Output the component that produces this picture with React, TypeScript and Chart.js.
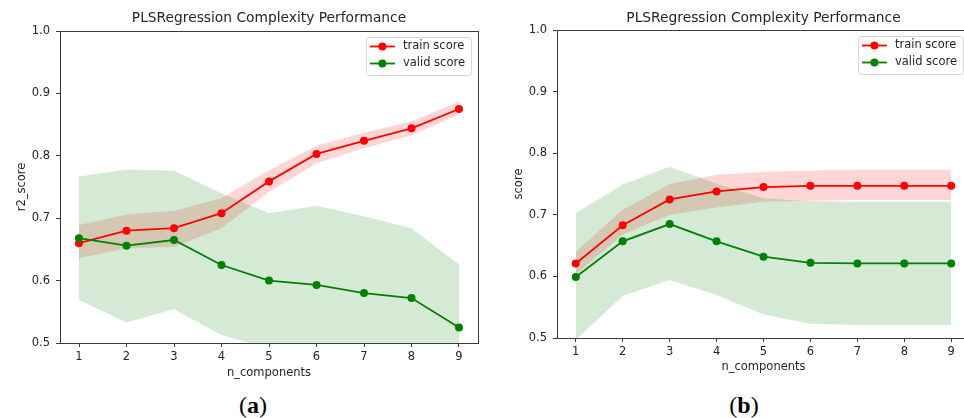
import React, { useEffect, useRef } from "react";
import { Chart, registerables } from "chart.js";

Chart.register(...registerables);

// ---------- data ----------
const nComponents = [1, 2, 3, 4, 5, 6, 7, 8, 9];
const yTicks = [0.5, 0.6, 0.7, 0.8, 0.9, 1.0];
const seriesNames = ["train score", "valid score"];
const panelTitle = "PLSRegression Complexity Performance";
const xTitle = "n_components";
const yTitles = ["r2_score", "score"];
const captions = ["a", "b"];

// panel (a)
const trainA = [0.660, 0.680, 0.684, 0.708, 0.759, 0.803, 0.824, 0.844, 0.875];
const trainALow = [0.636, 0.652, 0.654, 0.684, 0.742, 0.788, 0.812, 0.833, 0.866];
const trainAHigh = [0.689, 0.706, 0.712, 0.732, 0.777, 0.816, 0.837, 0.855, 0.887];
const validA = [0.668, 0.656, 0.665, 0.625, 0.600, 0.593, 0.580, 0.572, 0.525];
const validALow = [0.569, 0.533, 0.554, 0.513, 0.491, 0.470, 0.460, 0.462, 0.425];
const validAHigh = [0.767, 0.778, 0.776, 0.740, 0.708, 0.720, 0.703, 0.684, 0.626];

// panel (b)
const trainB = [0.621, 0.683, 0.725, 0.738, 0.745, 0.747, 0.747, 0.747, 0.747];
const trainBLow = [0.603, 0.668, 0.700, 0.712, 0.721, 0.723, 0.724, 0.724, 0.724];
const trainBHigh = [0.640, 0.708, 0.750, 0.765, 0.770, 0.772, 0.773, 0.773, 0.773];
const validB = [0.599, 0.657, 0.685, 0.657, 0.632, 0.622, 0.621, 0.621, 0.621];
const validBLow = [0.497, 0.568, 0.594, 0.570, 0.538, 0.523, 0.521, 0.521, 0.521];
const validBHigh = [0.703, 0.749, 0.778, 0.751, 0.727, 0.722, 0.721, 0.721, 0.721];

// ---------- styling ----------
const FONT = "'DejaVu Sans', sans-serif";
const TEXT = "#262626";
const RED = "#ff0000";
const GREEN = "#008000";

const pts = (ys: number[]) => nComponents.map((x, i) => ({ x, y: ys[i] }));

const framePlugin = {
  id: "mplFrame",
  afterDatasetsDraw(chart: any) {
    const { ctx, chartArea: ca } = chart;
    ctx.save();
    ctx.strokeStyle = "#3a3a3a";
    ctx.lineWidth = 1;
    ctx.strokeRect(Math.round(ca.left) + 0.5, Math.round(ca.top) + 0.5, Math.round(ca.right - ca.left), Math.round(ca.bottom - ca.top));
    ctx.restore();
  },
};

// axes title centred over the plotting area (as matplotlib does)
const axTitlePlugin = {
  id: "axTitle",
  afterDraw(chart: any, _args: any, opts: any) {
    if (!opts.text) return;
    const { ctx, chartArea: ca } = chart;
    ctx.save();
    ctx.font = `13.8px ${FONT}`;
    ctx.fillStyle = TEXT;
    ctx.textAlign = "center";
    ctx.textBaseline = "middle";
    ctx.fillText(opts.text, (ca.left + ca.right) / 2, opts.y);
    ctx.restore();
  },
};

const legendPlugin = {
  id: "mplLegend",
  afterDraw(chart: any, _args: any, opts: any) {
    const items = opts.items as { label: string; color: string }[];
    if (!items) return;
    const { ctx, chartArea: ca } = chart;
    ctx.save();
    ctx.font = `11.5px ${FONT}`;
    const tw = Math.max(...items.map((it) => ctx.measureText(it.label).width));
    const w = 37 + tw + 6;
    const h = 38;
    const left = ca.right - 7 - w;
    const top = ca.top + 6;
    ctx.beginPath();
    (ctx as any).roundRect(left + 0.5, top + 0.5, w, h, 3);
    ctx.fillStyle = "rgba(255,255,255,0.85)";
    ctx.fill();
    ctx.strokeStyle = "#d6d6d6";
    ctx.lineWidth = 1;
    ctx.stroke();
    items.forEach((it, i) => {
      const y = top + 9.5 + i * 17;
      ctx.strokeStyle = it.color;
      ctx.lineWidth = 1.8;
      ctx.beginPath();
      ctx.moveTo(left + 4, y);
      ctx.lineTo(left + 29, y);
      ctx.stroke();
      ctx.fillStyle = it.color;
      ctx.beginPath();
      ctx.arc(left + 16.5, y, 4, 0, Math.PI * 2);
      ctx.fill();
      ctx.fillStyle = TEXT;
      ctx.textBaseline = "middle";
      ctx.textAlign = "left";
      ctx.fillText(it.label, left + 37, y);
    });
    ctx.restore();
  },
};

type PanelProps = {
  left: number;
  width: number;
  height: number;
  yWidth: number;
  padRight: number;
  padTop: number;
  yTitlePadTop: number;
  xTitlePadBottom: number;
  yTitle: string;
  train: number[];
  trainLow: number[];
  trainHigh: number[];
  valid: number[];
  validLow: number[];
  validHigh: number[];
};

function Panel(p: PanelProps) {
  const ref = useRef<HTMLCanvasElement>(null);
  useEffect(() => {
    if (!ref.current) return;
    const lineDs = (label: string, data: number[], color: string) => ({
      label,
      data: pts(data),
      borderColor: color,
      backgroundColor: color,
      borderWidth: 1.8,
      pointRadius: 4,
      pointHoverRadius: 4,
      pointBorderWidth: 0,
      fill: false,
      tension: 0,
    });
    const bandDs = (data: number[], fill: any, bg: string) => ({
      label: "",
      data: pts(data),
      borderColor: "rgba(0,0,0,0)",
      backgroundColor: bg,
      borderWidth: 0,
      pointRadius: 0,
      pointHoverRadius: 0,
      fill,
      tension: 0,
    });
    const chart = new Chart(ref.current, {
      type: "line",
      data: {
        datasets: [
          lineDs(seriesNames[1], p.valid, GREEN),
          lineDs(seriesNames[0], p.train, RED),
          bandDs(p.validHigh, "+1", "rgba(0,128,0,0.165)"),
          bandDs(p.validLow, false, "rgba(0,0,0,0)"),
          bandDs(p.trainHigh, "+1", "rgba(255,0,0,0.16)"),
          bandDs(p.trainLow, false, "rgba(0,0,0,0)"),
        ],
      } as any,
      options: {
        responsive: false,
        animation: false,
        devicePixelRatio: 1,
        events: [],
        layout: { padding: { left: 0, right: p.padRight, top: p.padTop, bottom: 0 } },
        plugins: {
          legend: { display: false },
          tooltip: { enabled: false },
          title: { display: false },
          axTitle: { text: panelTitle, y: 18 },
          mplLegend: {
            items: [
              { label: seriesNames[0], color: RED },
              { label: seriesNames[1], color: GREEN },
            ],
          },
        } as any,
        scales: {
          x: {
            type: "linear",
            min: 0.6,
            max: 9.4,
            afterBuildTicks: (s: any) => {
              s.ticks = nComponents.map((v) => ({ value: v }));
            },
            afterFit: (s: any) => {
              s.height = 45;
            },
            ticks: {
              color: TEXT,
              font: { family: FONT, size: 11.5, lineHeight: 1.2 },
              padding: 3,
              autoSkip: false,
              maxRotation: 0,
              callback: (v: any) => String(v),
            },
            grid: { drawOnChartArea: false, drawTicks: true, tickLength: 4, color: "#3a3a3a", tickWidth: 1 },
            border: { display: false },
            title: {
              display: true,
              text: xTitle,
              color: TEXT,
              font: { family: FONT, size: 11.5, lineHeight: 1.2 },
              padding: { top: 0, bottom: p.xTitlePadBottom },
            },
          },
          y: {
            type: "linear",
            min: 0.5,
            max: 1.0,
            afterBuildTicks: (s: any) => {
              s.ticks = yTicks.map((v) => ({ value: v }));
            },
            afterFit: (s: any) => {
              s.width = p.yWidth;
            },
            ticks: {
              color: TEXT,
              font: { family: FONT, size: 11.5, lineHeight: 1.2 },
              padding: 6,
              callback: (v: any) => Number(v).toFixed(1),
            },
            grid: { drawOnChartArea: false, drawTicks: true, tickLength: 4, color: "#3a3a3a", tickWidth: 1 },
            border: { display: false },
            title: {
              display: true,
              text: p.yTitle,
              color: TEXT,
              font: { family: FONT, size: 11.5, lineHeight: 1.2 },
              padding: { top: p.yTitlePadTop, bottom: 0 },
            },
          },
        },
      } as any,
      plugins: [framePlugin, axTitlePlugin, legendPlugin],
    });
    return () => chart.destroy();
  }, []);
  return (
    <canvas
      ref={ref}
      width={p.width}
      height={p.height}
      style={{ position: "absolute", left: p.left, top: 0, width: p.width, height: p.height, display: "block" }}
    />
  );
}

function Caption({ letter, cx }: { letter: string; cx: number }) {
  return (
    <div
      style={{
        position: "absolute",
        left: cx - 40,
        width: 80,
        top: 392,
        height: 26,
        textAlign: "center",
        fontFamily: "'Liberation Serif', 'Times New Roman', serif",
        fontSize: 24,
        lineHeight: "26px",
        color: "#000",
      }}
    >
      (<b>{letter}</b>)
    </div>
  );
}

export default function App() {
  return (
    <div
      style={{
        position: "absolute",
        left: 0,
        top: 0,
        width: 964,
        height: 418,
        overflow: "hidden",
        background: "#fff",
      }}
    >
      <Panel
        left={0}
        width={482}
        height={388}
        yWidth={60}
        padRight={2}
        padTop={31}
        yTitlePadTop={15}
        xTitlePadBottom={8}
        yTitle={yTitles[0]}
        train={trainA}
        trainLow={trainALow}
        trainHigh={trainAHigh}
        valid={validA}
        validLow={validALow}
        validHigh={validAHigh}
      />
      <Panel
        left={482}
        width={492}
        height={383}
        yWidth={75}
        padRight={3}
        padTop={30}
        yTitlePadTop={30}
        xTitlePadBottom={9}
        yTitle={yTitles[1]}
        train={trainB}
        trainLow={trainBLow}
        trainHigh={trainBHigh}
        valid={validB}
        validLow={validBLow}
        validHigh={validBHigh}
      />
      <Caption letter={captions[0]} cx={253} />
      <Caption letter={captions[1]} cx={744} />
    </div>
  );
}
